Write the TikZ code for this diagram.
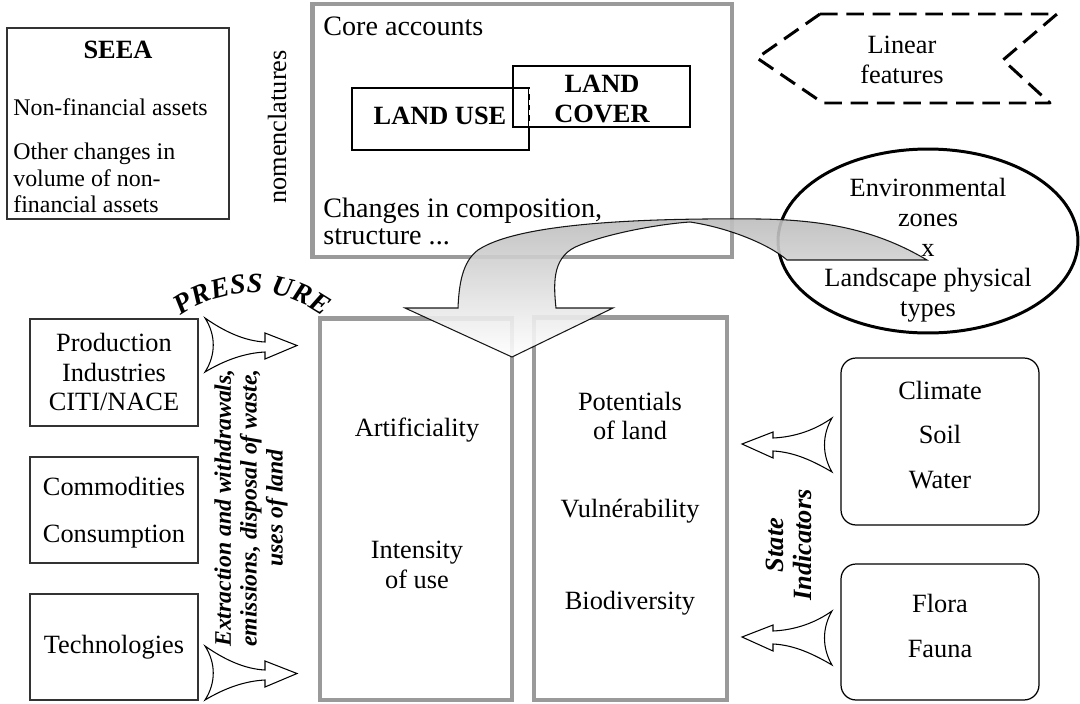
\documentclass[tikz,border=0pt]{standalone}
\usepackage{fontspec}
\setmainfont{Liberation Serif}
\usetikzlibrary{shapes.geometric}
\definecolor{boxgray}{HTML}{9A9A9A}
\begin{document}
\begin{tikzpicture}[x=0.02cm,y=-0.02cm,
  thinbox/.style={draw=black!80, line width=0.7pt, inner sep=0pt},
  graybox/.style={draw=boxgray, line width=2.8pt, inner sep=0pt},
  landbox/.style={draw=black, line width=1.1pt, inner sep=0pt},
  roundbox/.style={draw=black, line width=0.7pt, rounded corners=0.3cm, inner sep=0pt},
  txt/.style={font=\fontsize{15}{17}\selectfont, align=center, inner sep=0pt},
  smalltxt/.style={font=\fontsize{13.6}{15}\selectfont, align=left, inner sep=0pt},
  coretxt/.style={font=\fontsize{16}{15.4}\selectfont, align=left, inner sep=0pt},
  boldtxt/.style={font=\fontsize{15}{17}\selectfont\bfseries, align=center, inner sep=0pt},
  presstxt/.style={font=\fontsize{16}{16}\selectfont\bfseries\itshape, inner sep=0pt, anchor=base},
  hollow/.style={draw=black, line width=0.6pt, fill=white}]
\useasboundingbox (0,0) rectangle (1080,704);

% SEEA box
\node[thinbox, minimum width=4.44cm, minimum height=3.82cm] (seea) at (118,123.5) {};
\node[boldtxt] (seeat) at (118,50) {SEEA};
\node[smalltxt, anchor=west] (nfa) at (13,107) {Non-financial assets};
\node[smalltxt, anchor=west] (ocv) at (13,178) {Other changes in\\volume of non-\\financial assets};
\node[txt, rotate=90] (nom) at (277,127) {nomenclatures};

% Core accounts
\node[graybox, minimum width=8.4cm, minimum height=5.06cm] (core) at (522,130.5) {};
\node[coretxt, anchor=west] (coret) at (323,26) {Core accounts};
\node[coretxt, anchor=west] (chg) at (323,221) {Changes in composition,\\structure ...};
\node[landbox, minimum width=3.54cm, minimum height=1.24cm] (luse) at (440.5,119) {};
\node[landbox, minimum width=3.54cm, minimum height=1.22cm] (lcover) at (601.5,96.5) {};
\draw[white, line width=1.4pt, dash pattern=on 3pt off 3pt] (luse.north east) ++(0,2) -- ([yshift=-1pt]lcover.south -| luse.east);
\node[boldtxt] (luset) at (440,116) {LAND USE};
\node[boldtxt] (lcovert) at (602,99) {LAND\\COVER};

% Linear features
\draw[line width=1.7pt, dash pattern=on 10pt off 5pt, line join=round]
  (820,14) -- (1057,14) -- (1003,60) -- (1050,103) -- (823,103) -- (757,58) -- cycle;
\node[txt] (lin) at (902,60) {Linear\\features};

% lower gray boxes
\node[graybox, minimum width=3.84cm, minimum height=7.64cm] (artbox) at (416,509) {};
\node[graybox, minimum width=3.86cm, minimum height=7.66cm] (potbox) at (630.5,508.5) {};

% ellipse
\node[ellipse, draw=black, line width=1.7pt, minimum width=6cm, minimum height=3.68cm, inner sep=0pt] (env) at (928,241) {};

% big curved arrow
\shade[top color=black!26, bottom color=white, draw=black, line width=0.6pt, opacity=0.9]
  (927,260) .. controls (880,232) and (830,220) .. (760,219)
  .. controls (650,218) and (520,222) .. (478,250)
  .. controls (462,262) and (459,285) .. (458,308)
  -- (405,308) -- (512,357) -- (613,308) -- (556,308)
  .. controls (553,280) and (553,255) .. (580,245)
  .. controls (610,233) and (660,224) .. (690,222)
  .. controls (730,228) and (770,245) .. (787,260) -- cycle;

\node[txt] (envt) at (928,250) {Environmental\\zones\\x\\Landscape physical\\types};

% texts in lower boxes
\node[txt] (art) at (417,430) {Artificiality};
\node[txt] (int) at (417,565) {Intensity\\of use};
\node[txt] (pot) at (630,416) {Potentials\\of land};
\node[txt] (vul) at (630,511) {Vulnérability};
\node[txt] (bio) at (630,603) {Biodiversity};

% left boxes
\node[thinbox, minimum width=3.36cm, minimum height=2.14cm] (prod) at (114,372.5) {};
\node[txt, font=\fontsize{15}{16.7}\selectfont] (prodt) at (114,372) {Production\\Industries\\CITI/NACE};
\node[thinbox, minimum width=3.36cm, minimum height=2.12cm] (comm) at (114,510) {};
\node[txt, font=\fontsize{15}{26.6}\selectfont] (commt) at (114,513) {Commodities\\Consumption};
\node[thinbox, minimum width=3.36cm, minimum height=2.12cm] (tech) at (114,647) {};
\node[txt] (techt) at (114,647) {Technologies};

% right rounded boxes
\node[roundbox, minimum width=3.96cm, minimum height=3.34cm] (clim) at (940,441.5) {};
\node[txt, font=\fontsize{15}{25.5}\selectfont] (climt) at (940,435) {Climate\\Soil\\Water};
\node[roundbox, minimum width=3.96cm, minimum height=2.72cm] (flora) at (940,632) {};
\node[txt, font=\fontsize{15}{25.5}\selectfont] (florat) at (940,626) {Flora\\Fauna};

% pressure arrows
\foreach \s in {0,328}{
\draw[hollow, shift={(0,\s)}]
  (205,318) .. controls (225,332) and (245,341) .. (265,342) -- (265,333) -- (297,345.5) -- (265,359) -- (265,352)
  .. controls (245,353) and (225,360) .. (205,372)
  .. controls (216,355) and (216,335) .. (205,318) -- cycle;
}
% state arrows
\foreach \s in {0,193}{
\draw[hollow, shift={(0,\s)}]
  (742,444) -- (773,432) -- (773,438) .. controls (795,437) and (815,430) .. (832,418)
  .. controls (822,435) and (822,455) .. (832,472)
  .. controls (815,462) and (795,452) .. (773,451) -- (773,458) -- cycle;
}

% PRESSURE, letters set on an arc
\foreach \ch/\ang [count=\i] in {P/-32, R/-23.2, E/-14.4, S/-6.3, S/1.2, U/13.5, R/22.8, E/31.8}{
  \node[presstxt, rotate=-\ang] (press\i) at ({252+121*sin(\ang)},{414-121*cos(\ang)}) {\ch};
}

\node[rotate=90, font=\fontsize{13.5}{14.7}\selectfont\bfseries\itshape, align=center, inner sep=0pt] (extr) at (251,508)
  {Extraction and withdrawals,\\emissions, disposal of waste,\\uses of land};
\node[rotate=90, font=\fontsize{15}{16}\selectfont\bfseries\itshape, align=center, inner sep=0pt] (state) at (789,545)
  {State\\Indicators};
\end{tikzpicture}
\end{document}
